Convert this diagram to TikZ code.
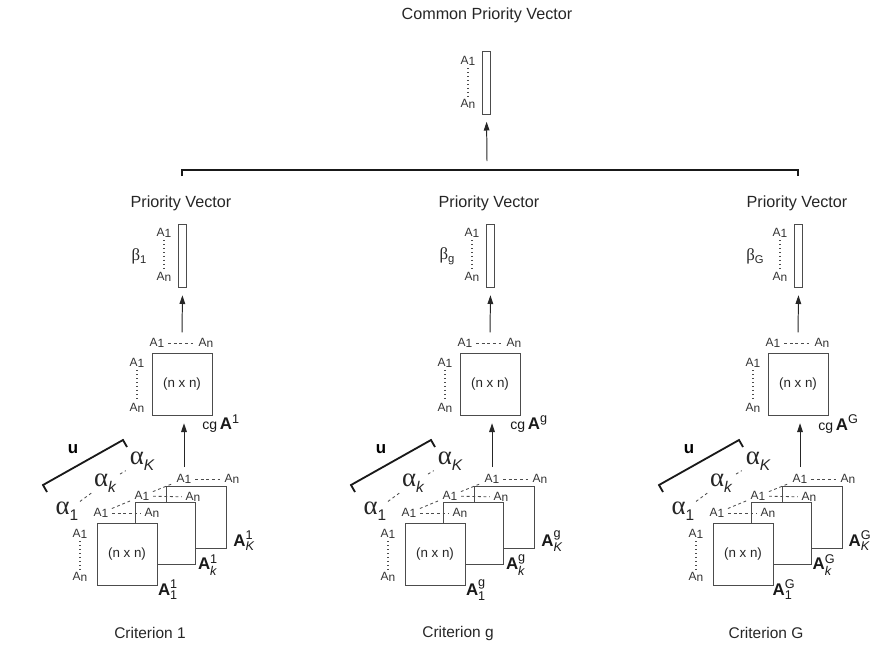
\documentclass[tikz,border=0pt]{standalone}
\usepackage{fontspec}
\setmainfont{Liberation Sans}
\newfontfamily\grk{Liberation Serif}
\usetikzlibrary{positioning,arrows.meta}

\newcommand{\Ao}{A\raisebox{-1pt}{1}}
\newcommand{\An}{A\raisebox{-1pt}{n}}
\newcommand{\Mat}[2]{\textbf{A}$^{\mbox{\fontsize{9}{9}\selectfont #1}}_{\mbox{\fontsize{9}{9}\selectfont #2}}$}
\newcommand{\Alf}[1]{{\grk α}\raisebox{-4pt}{\fontsize{11}{11}\selectfont #1}}

\tikzset{
  box/.style={draw=black!70,line width=0.7pt,fill=white,minimum width=15mm,minimum height=15.5mm,inner sep=0pt,font=\fontsize{9.5}{10}\selectfont,text=black!85},
  vecbox/.style={draw=black!70,line width=0.7pt,minimum width=2.1mm,minimum height=15.75mm,inner sep=0pt},
  lab/.style={font=\fontsize{8.5}{9}\selectfont,inner sep=0.5pt,text=black!80},
  title/.style={font=\fontsize{11.5}{13}\selectfont,text=black!85},
  mlab/.style={font=\fontsize{12}{12}\selectfont,inner sep=0pt,text=black!90},
  alf/.style={font=\fontsize{19}{19}\selectfont,inner sep=1pt,text=black!85},
  arr/.style={-{Triangle[length=2.2mm,width=1.4mm]},line width=0.7pt,black!85},
  dots/.style={dotted,line width=0.8pt,black!70,shorten <=1pt,shorten >=1pt},
  dsh/.style={dash pattern=on 2pt off 2pt,line width=0.6pt,black!70,shorten <=2pt,shorten >=2pt},
  bar/.style={line width=1.3pt,black!90}
}

\begin{document}
\begin{tikzpicture}[x=0.25mm,y=-0.25mm]
  \useasboundingbox (0,0) rectangle (872,644);
  \node[title] (ctitle) at (487,15) {Common Priority Vector};
  \node[vecbox] (cvec) at (486.5,82.5) {};
  \node[lab] (ca1) at (468,61) {\Ao};
  \node[lab] (can) at (468,104) {\An};
  \draw[dots] (ca1) -- (can);
  \coordinate (cin) at (487,161);
  \draw[arr,shorten >=1.8mm] (cin) -- (cvec.south);

  \foreach \i/\lbl in {0/1,1/g,2/G}{
    \begin{scope}[xshift=\i*77mm]
      \coordinate (bar\i) at (182,170);
      \node[title] (pv\i) at (181,203) {Priority Vector};
      \node[vecbox] (vec\i) at (182.5,256) {};
      \node[lab] (va\i) at (164,233) {\Ao};
      \node[lab] (vn\i) at (164,277) {\An};
      \draw[dots] (va\i) -- (vn\i);
      \node[font=\fontsize{12}{12}\selectfont,text=black!85] (beta\i) at (139,256) {{\grk β}\raisebox{-2.5pt}{\fontsize{8}{8}\selectfont\lbl}};

      \node[box] (cgm\i) at (182,384.5) {(n x n)};
      \node[lab] (cga\i) at (157,343) {\Ao};
      \node[lab] (cgn\i) at (206,343) {\An};
      \draw[dsh] (cga\i) -- (cgn\i);
      \node[lab] (cla\i) at (137,363) {\Ao};
      \node[lab] (cln\i) at (137,408) {\An};
      \draw[dots] (cla\i) -- (cln\i);
      \node[mlab,anchor=west] (cgl\i) at (202,424) {{\fontsize{10}{10}\selectfont cg}\,\textbf{A}$^{\mbox{\fontsize{9}{9}\selectfont\lbl}}$};
      \draw[arr,shorten <=1.2mm,shorten >=1.8mm] (cgm\i.north |- cga\i.north) -- (vec\i.south);

      \node[box] (mK\i) at (196,517.5) {};
      \node[lab] (ka\i) at (184,479) {\Ao};
      \node[lab] (kn\i) at (232,479) {\An};
      \draw[dsh] (ka\i) -- (kn\i);
      \node[box] (mk\i) at (165,533.5) {};
      \node[lab] (ja\i) at (142,496) {\Ao};
      \node[lab] (jn\i) at (193,497) {\An};
      \draw[dsh] (ja\i) -- (jn\i);
      \draw[dsh] (ja\i) -- (ka\i);
      \node[box] (mf\i) at (127,554) {(n x n)};
      \node[lab] (fa\i) at (101,513) {\Ao};
      \node[lab] (fn\i) at (152,513) {\An};
      \draw[dsh] (fa\i) -- (fn\i);
      \draw[dsh] (fa\i) -- (ja\i);
      \node[lab] (la\i) at (80,534) {\Ao};
      \node[lab] (ln\i) at (80,577) {\An};
      \draw[dots] (la\i) -- (ln\i);
      \draw[arr,shorten <=1.5mm,shorten >=1.8mm] (ka\i.north) -- (ka\i.north |- cgm\i.south);

      \node[mlab] (lK\i) at (244,541) {\Mat{\lbl}{\itshape K}};
      \node[mlab] (lk\i) at (208,565) {\Mat{\lbl}{\itshape k}};
      \node[mlab] (l1\i) at (168,590) {\Mat{\lbl}{1}};

      \node[alf] (al1\i) at (67,511) {\Alf{1}};
      \node[alf] (alk\i) at (105,483) {\Alf{\itshape k}};
      \node[alf] (alK\i) at (142,461) {\Alf{\itshape K}};
      \draw[dsh] (al1\i) -- (alk\i) -- (alK\i);
      \coordinate (uL\i) at (43,485);
      \coordinate (uR\i) at (123,440);
      \draw[bar] (uL\i) ++(4,7) -- (uL\i) -- (uR\i) -- ++(4,7);
      \node[font=\bfseries\fontsize{12}{12}\selectfont] (u\i) at (73,449) {u};

      \node[font=\fontsize{11}{12}\selectfont,text=black!85] (crit\i) at (150,633) {Criterion \lbl};
    \end{scope}
  }
  \draw[bar] (bar0) ++(0,6) -- (bar0) -- (bar2) -- ++(0,6);
\end{tikzpicture}
\end{document}
